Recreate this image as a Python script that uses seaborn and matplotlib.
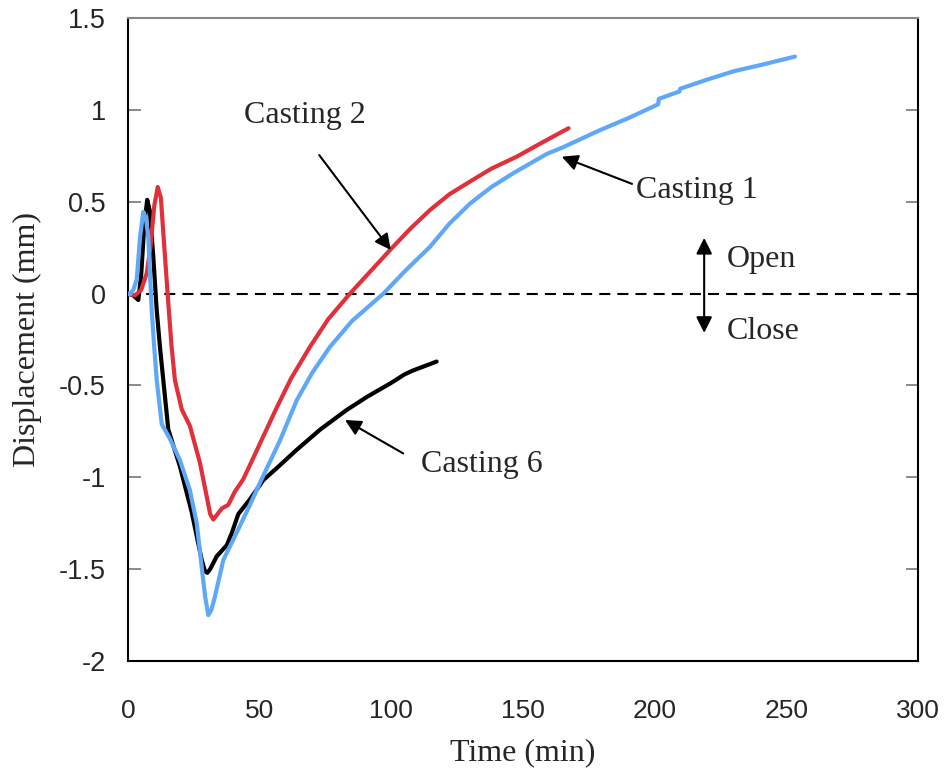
import matplotlib
matplotlib.use("Agg")
import matplotlib.pyplot as plt
import seaborn as sns
import pandas as pd

# Displacement records for the three castings (time in min, displacement in mm)
casting1_time = [0, 0.7, 2.0, 3.3, 4.6, 5.8, 6.8, 7.7, 9.0, 10.0, 10.9, 12.8, 15.9, 19.7,
                 23.5, 26.1, 28.0, 29.3, 30.5, 31.7, 33.0, 36.2, 41.3, 46.0, 50.1, 57.7,
                 64.1, 70.0, 76.7, 85.0, 97.0, 105.0, 114.7, 122.0, 129.9, 138.0, 146.3,
                 159.0, 165.0, 175.5, 179.3, 190.0, 201.3, 201.6, 209.4, 209.7, 220.0,
                 230.0, 242.0, 253.3]
casting1_disp = [0, -0.005, 0.02, 0.075, 0.31, 0.445, 0.41, 0.31, -0.09, -0.30, -0.47,
                 -0.71, -0.79, -0.906, -1.07, -1.25, -1.49, -1.65, -1.75, -1.72, -1.65,
                 -1.45, -1.30, -1.16, -1.03, -0.80, -0.58, -0.43, -0.29, -0.15, 0.0, 0.12,
                 0.255, 0.38, 0.49, 0.58, 0.655, 0.76, 0.795, 0.865, 0.89, 0.955, 1.03,
                 1.06, 1.10, 1.115, 1.165, 1.21, 1.25, 1.29]

casting2_time = [0, 2.7, 5.0, 7.1, 8.5, 10.0, 11.3, 12.5, 13.8, 15.3, 16.5, 17.8, 20.4,
                 23.5, 27.3, 29.9, 31.2, 32.4, 33.5, 35.6, 38.1, 40.5, 43.8, 50.0, 56.5,
                 62.0, 69.1, 76.0, 84.3, 92.0, 99.5, 107.0, 114.7, 122.0, 129.9, 138.0,
                 147.6, 157.0, 167.3]
casting2_disp = [0, -0.01, 0.02, 0.11, 0.25, 0.48, 0.58, 0.52, 0.25, -0.05, -0.28, -0.47,
                 -0.63, -0.72, -0.92, -1.105, -1.20, -1.23, -1.21, -1.17, -1.15, -1.08,
                 -1.01, -0.82, -0.62, -0.46, -0.29, -0.14, 0.0, 0.12, 0.237, 0.35, 0.455,
                 0.54, 0.61, 0.68, 0.745, 0.82, 0.90]

casting6_time = [0, 2.0, 3.9, 5.0, 6.2, 7.3, 8.3, 9.6, 10.9, 12.2, 13.4, 15.3, 19.7, 24.2,
                 28.0, 29.2, 30.1, 31.2, 33.7, 37.5, 39.5, 41.9, 46.3, 51.4, 56.5, 64.1,
                 73.0, 83.0, 91.0, 99.5, 105.0, 108.0, 117.2]
casting6_disp = [0, -0.01, -0.035, 0.10, 0.38, 0.51, 0.45, 0.20, -0.09, -0.30, -0.47,
                 -0.74, -0.94, -1.19, -1.45, -1.51, -1.52, -1.50, -1.43, -1.37, -1.30,
                 -1.20, -1.12, -1.015, -0.95, -0.85, -0.74, -0.634, -0.56, -0.49, -0.44,
                 -0.42, -0.37]

x_ticks = [0, 50, 100, 150, 200, 250, 300]
y_ticks = [1.5, 1, 0.5, 0, -0.5, -1, -1.5, -2]
y_tick_labels = ["1.5", "1", "0.5", "0", "-0.5", "-1", "-1.5", "-2"]

colors = {"Casting 6": "#000000", "Casting 2": "#E0303A", "Casting 1": "#5FA8F8"}

frames = []
for name, t, d in [("Casting 6", casting6_time, casting6_disp),
                   ("Casting 2", casting2_time, casting2_disp),
                   ("Casting 1", casting1_time, casting1_disp)]:
    frames.append(pd.DataFrame({"time": t, "disp": d, "casting": name}))
data = pd.concat(frames, ignore_index=True)

sns.set_style("white")
serif = ["Liberation Serif", "DejaVu Serif"]
sans = ["Liberation Sans", "DejaVu Sans"]

fig = plt.figure(figsize=(9.48, 7.70), dpi=100)
ax = fig.add_axes([128 / 948, 1 - 661 / 770, (918 - 128) / 948, (661 - 18) / 770])

# reference line separating opening and closing
ax.axhline(0, color="black", lw=1.5, dashes=(5.3, 3.4), zorder=1)

sns.lineplot(data=data, x="time", y="disp", hue="casting", palette=colors,
             hue_order=["Casting 6", "Casting 2", "Casting 1"],
             sort=False, estimator=None, lw=3, legend=False, ax=ax, zorder=3)

ax.set_xlim(0, 300)
ax.set_ylim(-2, 1.5)
ax.set_xticks(x_ticks)
ax.set_xticklabels([str(v) for v in x_ticks], family=sans, fontsize=19)
ax.set_yticks(y_ticks)
ax.set_yticklabels(y_tick_labels, family=sans, fontsize=19.5)
ax.tick_params(axis="x", direction="in", length=10, width=1, color="black", pad=27)
ax.tick_params(axis="y", direction="in", length=9, width=1.2, color="#777777",
               pad=16, left=True, right=True)

for side in ["left", "bottom", "right"]:
    ax.spines[side].set_color("black")
    ax.spines[side].set_linewidth(1.5)
ax.spines["top"].set_color("#888888")
ax.spines["top"].set_linewidth(1.5)

ax.set_xlabel("Time (min)", family=serif, fontsize=23, labelpad=11)
ax.set_ylabel("Displacement (mm)", family=serif, fontsize=23, labelpad=12)

arrow = dict(arrowstyle="-|>", color="black", lw=1.5, mutation_scale=24,
             shrinkA=0, shrinkB=0)
ax.annotate("", xy=(99.8, 0.237), xytext=(72.6, 0.754), arrowprops=arrow)
ax.text(67.2, 0.97, "Casting 2", family=serif, fontsize=23, ha="center", va="center")

ax.annotate("", xy=(164.7, 0.745), xytext=(191.4, 0.597), arrowprops=arrow)
ax.text(216.1, 0.56, "Casting 1", family=serif, fontsize=23, ha="center", va="center")

ax.annotate("", xy=(82.4, -0.688), xytext=(104.5, -0.87), arrowprops=arrow)
ax.text(134.4, -0.93, "Casting 6", family=serif, fontsize=23, ha="center", va="center")

ax.annotate("", xy=(218.8, 0.303), xytext=(218.8, -0.214),
            arrowprops=dict(arrowstyle="<|-|>", color="black", lw=1.5,
                            mutation_scale=24, shrinkA=0, shrinkB=0))
ax.text(227.5, 0.185, "Open", family=serif, fontsize=23, ha="left", va="center")
ax.text(227.5, -0.205, "Close", family=serif, fontsize=23, ha="left", va="center")

fig.savefig("out.png", dpi=100, facecolor="white")
